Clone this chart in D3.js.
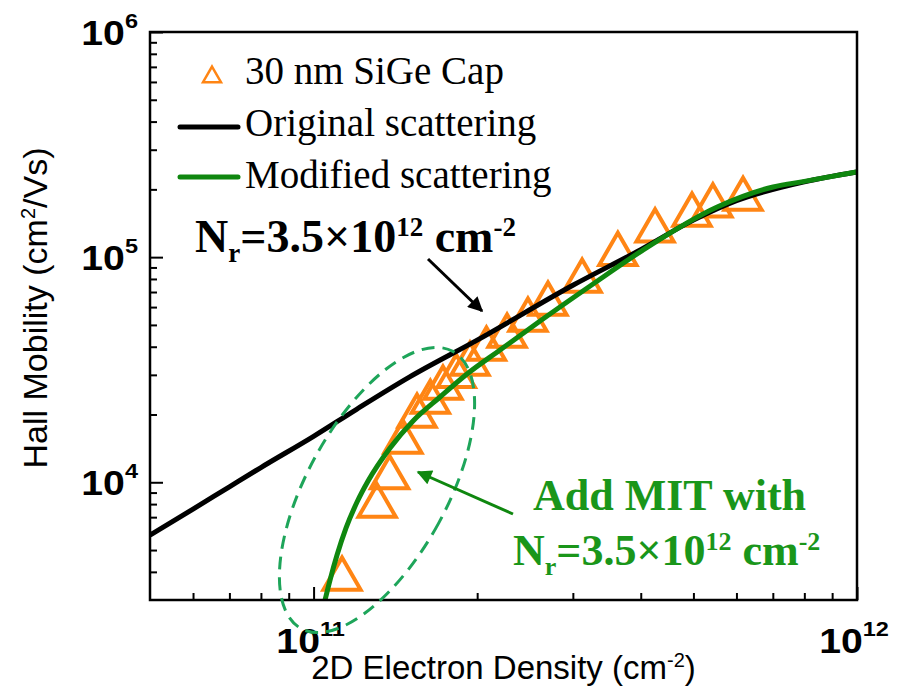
<!DOCTYPE html>
<html>
<head>
<meta charset="utf-8">
<script src="https://cdn.jsdelivr.net/npm/d3@7"></script>
<style>
  body { margin: 0; background: #fff; }
  text { white-space: pre; }
</style>
</head>
<body>
<div id="chart"></div>
<script>
// ---- data ----
const xDomain = [5e10, 1e12];
const yDomain = [3e3, 1e6];

// measured points, 30 nm SiGe cap
const capDensity  = [1.128e11, 1.309e11, 1.38e11, 1.46e11, 1.55e11, 1.64e11, 1.73e11, 1.83e11, 1.94e11, 2.08e11,
                     2.27e11, 2.48e11, 2.70e11, 3.12e11, 3.63e11, 4.25e11, 4.97e11, 5.43e11, 6.17e11];
const capMobility = [3.72e3, 7.84e3, 1.05e4, 1.51e4, 1.97e4, 2.27e4, 2.62e4, 2.96e4, 3.35e4, 3.91e4,
                     4.46e4, 5.26e4, 6.19e4, 7.83e4, 1.03e5, 1.31e5, 1.54e5, 1.69e5, 1.81e5];

// original scattering model
const origDensity  = [5e10, 6e10, 7e10, 8e10, 1e11, 1.2e11, 1.5e11, 2e11, 3e11, 4e11, 5e11, 6e11, 8e11, 1e12];
const origMobility = [5.82e3, 7.6e3, 9.55e3, 1.163e4, 1.60e4, 2.11e4, 2.93e4, 4.28e4, 7.5e4, 1.08e5, 1.46e5, 1.78e5, 2.16e5, 2.39e5];

// modified scattering model (with MIT)
const modDensity  = [1.0497e11, 1.0722e11, 1.1045e11, 1.1475e11, 1.2022e11, 1.2596e11, 1.3826e11, 1.5241e11,
                     1.7089e11, 1.9158e11, 2.2033e11, 2.6112e11, 3.268e11, 3.99e11, 5.53e11, 7.01e11, 8e11, 1e12];
const modMobility = [3.0e3, 3.68e3, 4.75e3, 6.27e3, 8.17e3, 1.013e4, 1.42e4, 1.872e4,
                     2.392e4, 3.026e4, 3.868e4, 5.204e4, 7.598e4, 1.055e5, 1.67e5, 2.05e5, 2.17e5, 2.39e5];

const xMajor = [1e11, 1e12];
const xMinor = [6e10, 7e10, 8e10, 9e10, 2e11, 3e11, 4e11, 5e11, 6e11, 7e11, 8e11, 9e11];
const yMajor = [1e4, 1e5, 1e6];
const yMinor = [4e3, 5e3, 6e3, 7e3, 8e3, 9e3, 2e4, 3e4, 4e4, 5e4, 6e4, 7e4, 8e4, 9e4,
                2e5, 3e5, 4e5, 5e5, 6e5, 7e5, 8e5, 9e5];

const legendLabels = ["30 nm SiGe Cap", "Original scattering", "Modified scattering"];

// ---- setup ----
const W = 898, H = 696;
const plot = {l: 150, r: 857, t: 32, b: 600};
const sans = "'Liberation Sans', Arial, sans-serif";
const serif = "'Liberation Serif', 'Times New Roman', serif";
const orange = "#ff8514", black = "#000", green = "#0f870f", dashGreen = "#1ea55a", textGreen = "#1a961a";

const svg = d3.select("#chart").append("svg")
    .attr("width", W)
    .attr("height", H);
svg.append("rect").attr("width", W).attr("height", H).attr("fill", "#fff");

const x = d3.scaleLog().domain(xDomain).range([plot.l, plot.r]);
const y = d3.scaleLog().domain(yDomain).range([plot.b, plot.t]);

svg.append("clipPath").attr("id", "clip")
    .append("rect")
    .attr("x", plot.l).attr("y", plot.t)
    .attr("width", plot.r - plot.l).attr("height", plot.b - plot.t);

// rich text with sub/superscripts: parts = [[text, mode]], mode 1 sup, -1 sub
function rich(sel, parts, size, smallSize, supShift, subShift) {
    let cur = 0;
    parts.forEach(([t, m]) => {
        const target = m === 1 ? -supShift : (m === -1 ? subShift : 0);
        sel.append("tspan")
            .attr("dy", target - cur)
            .attr("font-size", m ? smallSize : size)
            .text(t);
        cur = target;
    });
}

// ---- ticks ----
function styleTicks(g) {
    g.select(".domain").remove();
    g.selectAll("line").attr("stroke", black).attr("stroke-width", 2);
}
svg.append("g").attr("transform", `translate(0,${plot.b})`)
    .call(d3.axisBottom(x).tickValues(xMinor).tickSize(-7).tickFormat(""))
    .call(styleTicks);
svg.append("g").attr("transform", `translate(0,${plot.b})`)
    .call(d3.axisBottom(x).tickValues(xMajor).tickSize(-13).tickFormat(""))
    .call(styleTicks);
svg.append("g").attr("transform", `translate(${plot.l},0)`)
    .call(d3.axisLeft(y).tickValues(yMinor).tickSize(-7).tickFormat(""))
    .call(styleTicks);
svg.append("g").attr("transform", `translate(${plot.l},0)`)
    .call(d3.axisLeft(y).tickValues(yMajor).tickSize(-13).tickFormat(""))
    .call(styleTicks);

// tick labels 10^n
function expOf(v) { return Math.round(Math.log10(v)); }
xMajor.forEach(v => {
    const t = svg.append("g")
        .attr("transform", `translate(${x(v) - 3},653) scale(1.12,1)`)
        .append("text")
        .attr("text-anchor", "middle")
        .attr("font-family", sans).attr("font-weight", "bold");
    rich(t, [["10", 0], [String(expOf(v)), 1]], 35, 21, 17, 0);
});
yMajor.forEach(v => {
    const t = svg.append("g")
        .attr("transform", `translate(138,${y(v) + 13}) scale(1.12,1)`)
        .append("text")
        .attr("text-anchor", "end")
        .attr("font-family", sans).attr("font-weight", "bold");
    rich(t, [["10", 0], [String(expOf(v)), 1]], 35, 21, 17, 0);
});

// axis titles
const xt = svg.append("text")
    .attr("x", (plot.l + plot.r) / 2).attr("y", 679)
    .attr("text-anchor", "middle")
    .attr("font-family", sans);
rich(xt, [["2D Electron Density (cm", 0], ["-2", 1], [")", 0]], 33, 20, 12, 0);

const yt = svg.append("text")
    .attr("transform", "translate(47,308) rotate(-90)")
    .attr("text-anchor", "middle")
    .attr("font-family", sans);
rich(yt, [["Hall Mobility (cm", 0], ["2", 1], ["/Vs)", 0]], 34, 20, 12, 0);

// ---- data marks ----
const marks = svg.append("g").attr("clip-path", "url(#clip)");

marks.selectAll("path.cap")
    .data(d3.zip(capDensity, capMobility))
    .enter().append("path")
    .attr("class", "cap")
    .attr("transform", d => `translate(${x(d[0])},${y(d[1])})`)
    .attr("d", d3.symbol(d3.symbolTriangle, 600))
    .attr("fill", "none")
    .attr("stroke", orange)
    .attr("stroke-width", 4)
    .attr("stroke-linejoin", "miter");

const line = d3.line()
    .x(d => x(d[0]))
    .y(d => y(d[1]))
    .curve(d3.curveMonotoneX);

marks.append("path")
    .datum(d3.zip(origDensity, origMobility))
    .attr("d", line)
    .attr("fill", "none")
    .attr("stroke", black)
    .attr("stroke-width", 5);

marks.append("path")
    .datum(d3.zip(modDensity, modMobility))
    .attr("d", line)
    .attr("fill", "none")
    .attr("stroke", green)
    .attr("stroke-width", 5);

// frame
svg.append("rect")
    .attr("x", plot.l).attr("y", plot.t)
    .attr("width", plot.r - plot.l).attr("height", plot.b - plot.t)
    .attr("fill", "none")
    .attr("stroke", black)
    .attr("stroke-width", 2.5);

// ---- annotations ----
svg.append("ellipse")
    .attr("transform", "translate(377,490) rotate(28.7)")
    .attr("rx", 70).attr("ry", 158)
    .attr("fill", "none")
    .attr("stroke", dashGreen)
    .attr("stroke-width", 3)
    .attr("stroke-dasharray", "13,8");

const defs = svg.append("defs");
[["headBlack", black], ["headGreen", green]].forEach(([id, c]) => {
    defs.append("marker")
        .attr("id", id)
        .attr("viewBox", "0 0 10 10")
        .attr("refX", 9).attr("refY", 5)
        .attr("markerWidth", 6).attr("markerHeight", 5)
        .attr("markerUnits", "strokeWidth")
        .attr("orient", "auto")
        .append("path")
        .attr("d", "M0,0 L10,5 L0,10 Z")
        .attr("fill", c);
});

svg.append("line")
    .attr("x1", 428).attr("y1", 259).attr("x2", 482).attr("y2", 311)
    .attr("stroke", black).attr("stroke-width", 3)
    .attr("marker-end", "url(#headBlack)");

svg.append("line")
    .attr("x1", 513).attr("y1", 514).attr("x2", 418).attr("y2", 472)
    .attr("stroke", green).attr("stroke-width", 3)
    .attr("marker-end", "url(#headGreen)");

const nr = svg.append("text")
    .attr("x", 195).attr("y", 252)
    .attr("font-family", serif).attr("font-weight", "bold")
    .attr("fill", black);
rich(nr, [["N", 0], ["r", -1], ["=3.5×10", 0], ["12", 1], [" cm", 0], ["-2", 1]], 46, 27, 16, 10);

svg.append("text")
    .attr("x", 533).attr("y", 510)
    .attr("font-family", serif).attr("font-weight", "bold")
    .attr("font-size", 44)
    .attr("fill", textGreen)
    .text("Add MIT with");
const nr2 = svg.append("text")
    .attr("x", 513).attr("y", 565)
    .attr("font-family", serif).attr("font-weight", "bold")
    .attr("fill", textGreen);
rich(nr2, [["N", 0], ["r", -1], ["=3.5×10", 0], ["12", 1], [" cm", 0], ["-2", 1]], 44, 26, 15, 10);

// ---- legend ----
const legend = svg.append("g");
legend.append("path")
    .attr("transform", "translate(212,77)")
    .attr("d", d3.symbol(d3.symbolTriangle, 140))
    .attr("fill", "none")
    .attr("stroke", orange)
    .attr("stroke-width", 2.5);
legend.append("line")
    .attr("x1", 180).attr("x2", 238).attr("y1", 127).attr("y2", 127)
    .attr("stroke", black).attr("stroke-width", 5).attr("stroke-linecap", "round");
legend.append("line")
    .attr("x1", 180).attr("x2", 238).attr("y1", 177).attr("y2", 177)
    .attr("stroke", green).attr("stroke-width", 5).attr("stroke-linecap", "round");
legend.selectAll("text.lg")
    .data(legendLabels)
    .enter().append("text")
    .attr("class", "lg")
    .attr("x", 245)
    .attr("y", (d, i) => 84 + i * 52)
    .attr("font-family", serif)
    .attr("font-size", 39)
    .attr("fill", black)
    .text(d => d);
</script>
</body>
</html>
